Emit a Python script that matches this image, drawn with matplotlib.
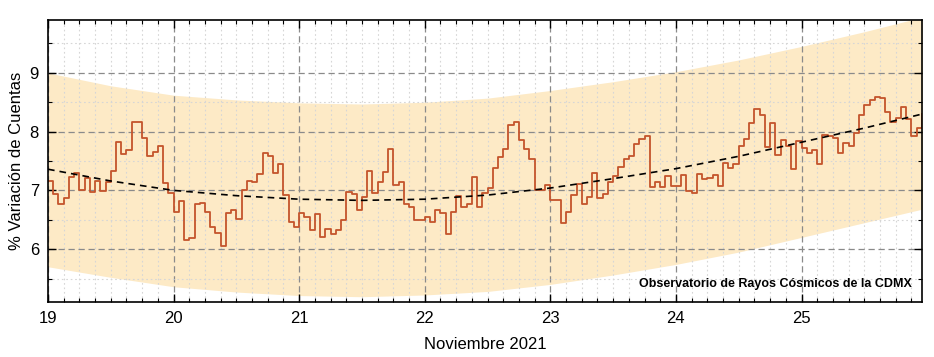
import numpy as np
import matplotlib.pyplot as plt
from matplotlib.ticker import MultipleLocator

plt.rcParams['font.family'] = ['Liberation Sans', 'DejaVu Sans']

# Hourly % count variation, one list per day (19-25 Nov 2021)
nov19 = [7.16, 6.94, 6.77, 6.87, 7.23, 7.29, 7.01, 7.21, 6.98, 7.16, 6.99, 7.15,
         7.33, 7.83, 7.62, 7.69, 8.16, 8.16, 7.89, 7.58, 7.65, 7.75, 7.12, 6.95]
nov20 = [6.63, 6.82, 6.16, 6.19, 6.77, 6.79, 6.64, 6.38, 6.28, 6.05, 6.62, 6.66,
         6.52, 7.01, 7.16, 7.14, 7.28, 7.63, 7.58, 7.29, 7.45, 6.92, 6.47, 6.38]
nov21 = [6.62, 6.55, 6.33, 6.60, 6.21, 6.34, 6.25, 6.32, 6.50, 6.97, 6.93, 6.66,
         6.89, 7.33, 6.95, 7.14, 7.32, 7.71, 7.10, 7.14, 6.76, 6.71, 6.49, 6.49]
nov22 = [6.54, 6.47, 6.66, 6.62, 6.25, 6.63, 6.91, 6.71, 6.77, 7.22, 6.71, 6.95,
         7.04, 7.38, 7.56, 7.70, 8.11, 8.16, 7.86, 7.70, 7.53, 7.01, 7.00, 7.10]
nov23 = [6.84, 6.84, 6.44, 6.63, 6.92, 7.11, 6.76, 6.88, 7.29, 6.87, 6.94, 7.14,
         7.25, 7.39, 7.54, 7.59, 7.79, 7.87, 7.92, 7.06, 7.15, 7.06, 7.25, 7.08]
nov24 = [7.08, 7.26, 6.99, 6.95, 7.28, 7.19, 7.21, 7.27, 7.07, 7.47, 7.38, 7.45,
         7.76, 7.87, 8.15, 8.38, 8.28, 7.73, 8.15, 7.60, 7.85, 7.76, 7.37, 7.84]
nov25 = [7.72, 7.64, 7.69, 7.45, 7.94, 7.92, 7.89, 7.64, 7.81, 7.76, 7.97, 8.28,
         8.45, 8.53, 8.59, 8.58, 8.34, 8.17, 8.23, 8.42, 8.21, 7.93, 8.06, 8.30]

# Trend and band read at half-day points
band_days = [19, 19.5, 20, 20.5, 21, 21.5, 22, 22.5, 23, 23.5, 24, 24.5, 25, 25.5, 26]
trend = [7.36, 7.16, 7.00, 6.91, 6.85, 6.83, 6.85, 6.92, 7.04, 7.20, 7.37, 7.58,
         7.82, 8.06, 8.32]
band_upper = [9.00, 8.78, 8.62, 8.54, 8.49, 8.47, 8.50, 8.57, 8.70, 8.85, 9.02,
              9.22, 9.45, 9.70, 9.97]
band_lower = [5.70, 5.52, 5.36, 5.27, 5.21, 5.19, 5.22, 5.28, 5.40, 5.56, 5.74,
              5.95, 6.20, 6.45, 6.70]

day_ticks = [19, 20, 21, 22, 23, 24, 25]


def main():
    values = nov19 + nov20 + nov21 + nov22 + nov23 + nov24 + nov25
    hours = 19 + np.arange(len(values)) / 24.0

    fig = plt.figure(figsize=(9.34, 3.57), dpi=100)
    ax = fig.add_axes([0.0514, 0.154, 0.9356, 0.79])

    ax.fill_between(band_days, band_lower, band_upper, color='#fdeac6',
                    lw=0, zorder=0)
    ax.plot(hours, values, drawstyle='steps-post', color='#c4542c', lw=1.3,
            zorder=3)
    ax.plot(band_days, trend, color='black', lw=1.2, ls=(0, (4, 3)), zorder=4)

    ax.set_xlim(19, hours[-1])
    ax.set_ylim(5.1, 9.9)
    ax.set_xticks(day_ticks)
    ax.set_yticks([6, 7, 8, 9])
    ax.xaxis.set_minor_locator(MultipleLocator(0.125))
    ax.yaxis.set_minor_locator(MultipleLocator(0.5))

    ax.set_axisbelow(False)
    ax.grid(which='major', color='#8a8a8a', ls=(0, (5, 3)), lw=0.9, zorder=1)
    ax.grid(which='minor', color='#d6d6d6', ls=(0, (1.5, 2.5)), lw=0.8, zorder=1)

    ax.tick_params(which='both', direction='in', top=True, right=True,
                   labelsize=12, color='black', pad=6.5)
    ax.tick_params(which='major', length=6, width=1)
    ax.tick_params(which='minor', length=3, width=0.8)
    for sp in ax.spines.values():
        sp.set_linewidth(1.2)
        sp.set_zorder(5)

    ax.set_xlabel('Noviembre 2021', fontsize=12, labelpad=8)
    ax.set_ylabel('% Variación de Cuentas', fontsize=12, labelpad=4)

    ax.text(0.989, 0.064, 'Observatorio de Rayos Cósmicos de la CDMX',
            transform=ax.transAxes, ha='right', va='center', fontsize=9,
            fontweight='bold', zorder=6)

    fig.savefig('out.png', dpi=100)


if __name__ == "__main__":
    main()
